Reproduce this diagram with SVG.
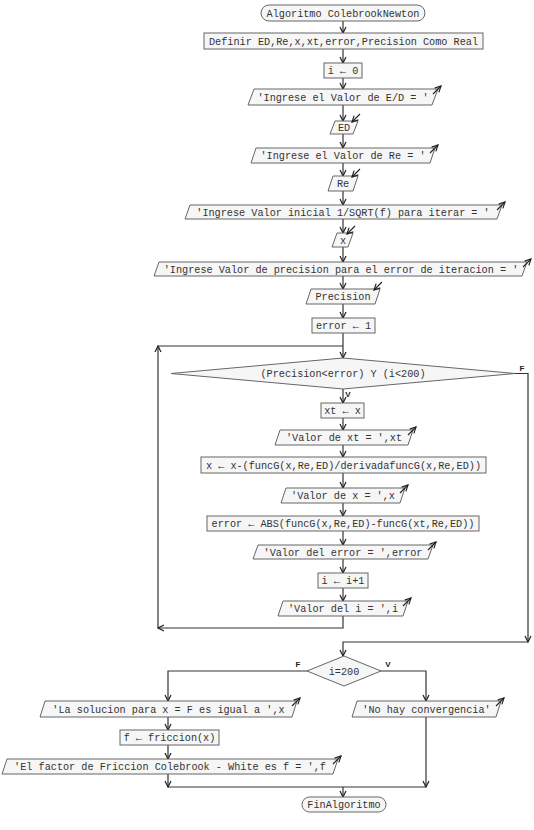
<svg xmlns="http://www.w3.org/2000/svg" width="534" height="830" viewBox="0 0 534 830">
<defs>
<marker id="ah" viewBox="0 0 8 8" refX="7" refY="4" markerWidth="8" markerHeight="8" markerUnits="userSpaceOnUse" orient="auto">
<path d="M1,1 L7,4 L1,7" fill="none" stroke="#222" stroke-width="1.2"/>
</marker>
</defs>
<style>
.s{fill:#f6f6f6;stroke:#666;stroke-width:1}
.t{font-family:"Liberation Mono",monospace;font-size:10.2px;fill:#333;text-anchor:middle}
.l{font-family:"Liberation Sans",sans-serif;font-size:8px;font-weight:bold;fill:#222;text-anchor:middle}
.c{fill:none;stroke:#333;stroke-width:1.2}
.io{fill:none;stroke:#222;stroke-width:1.1}
</style>
<rect width="534" height="830" fill="#ffffff"/>
<g id="connectors">
<path class="c" marker-end="url(#ah)" d="M343,21 V33"/>
<path class="c" marker-end="url(#ah)" d="M343,49 V63"/>
<path class="c" marker-end="url(#ah)" d="M343,78 V89"/>
<path class="c" marker-end="url(#ah)" d="M343,105 V121"/>
<path class="c" marker-end="url(#ah)" d="M343,134 V148"/>
<path class="c" marker-end="url(#ah)" d="M343,163 V176"/>
<path class="c" marker-end="url(#ah)" d="M343,191 V205"/>
<path class="c" marker-end="url(#ah)" d="M343,219 V233"/>
<path class="c" marker-end="url(#ah)" d="M343,247 V262"/>
<path class="c" marker-end="url(#ah)" d="M343,276 V289"/>
<path class="c" marker-end="url(#ah)" d="M343,304 V318"/>
<path class="c" marker-end="url(#ah)" d="M343,333 V358"/>
<path class="c" marker-end="url(#ah)" d="M343,389 V403"/>
<path class="c" marker-end="url(#ah)" d="M343,418 V430"/>
<path class="c" marker-end="url(#ah)" d="M343,445 V457"/>
<path class="c" marker-end="url(#ah)" d="M343,473 V488"/>
<path class="c" marker-end="url(#ah)" d="M343,503 V516"/>
<path class="c" marker-end="url(#ah)" d="M343,531 V545"/>
<path class="c" marker-end="url(#ah)" d="M343,559 V573"/>
<path class="c" marker-end="url(#ah)" d="M343,588 V601"/>
<path class="c" marker-end="url(#ah)" d="M343,616 V628 H158"/>
<path class="c" marker-end="url(#ah)" d="M158,628 V346"/>
<path class="c" d="M158,346 H343"/>
<path class="c" marker-end="url(#ah)" d="M515,373.5 H528 V642"/>
<path class="c" marker-end="url(#ah)" d="M528,642 H343 V656"/>
<path class="c" marker-end="url(#ah)" d="M307,671 H168 V701"/>
<path class="c" marker-end="url(#ah)" d="M381,671 H426 V701"/>
<path class="c" marker-end="url(#ah)" d="M168,717 V730"/>
<path class="c" marker-end="url(#ah)" d="M168,745 V759"/>
<path class="c" marker-end="url(#ah)" d="M168,774 V787"/>
<path class="c" marker-end="url(#ah)" d="M426,717 V787"/>
<path class="c" d="M168,787 H426"/>
<path class="c" marker-end="url(#ah)" d="M343,787 V797"/>
<text class="l" x="348" y="397">V</text>
<text class="l" x="522" y="371">F</text>
<text class="l" x="298" y="667">F</text>
<text class="l" x="388" y="667">V</text>
</g>
<g id="n1"><rect class="s" x="261" y="5" width="164" height="16" rx="8"/><text class="t" x="343" y="16.5">Algoritmo ColebrookNewton</text></g>
<g id="n2"><rect class="s" x="204" y="33" width="279" height="16"/><text class="t" x="343.5" y="44.5">Definir ED,Re,x,xt,error,Precision Como Real</text></g>
<g id="n3"><rect class="s" x="324" y="63" width="38" height="15"/><text class="t" x="343" y="74">i ← 0</text></g>
<g id="n4"><polygon class="s" points="248,105 254,89 438,89 432,105"/><text class="t" x="343" y="100.5">'Ingrese el Valor de E/D = '</text><path class="io" marker-end="url(#ah)" d="M433,94 L441,86"/></g>
<g id="n5"><polygon class="s" points="330,134 335,121 358,121 353,134"/><text class="t" x="344" y="131">ED</text><path class="io" marker-end="url(#ah)" d="M360,114 L352,122"/></g>
<g id="n6"><polygon class="s" points="251,163 256,148 435,148 430,163"/><text class="t" x="343" y="159">'Ingrese el Valor de Re = '</text><path class="io" marker-end="url(#ah)" d="M430,153 L438,145"/></g>
<g id="n7"><polygon class="s" points="328,191 333,176 358,176 353,191"/><text class="t" x="343" y="187">Re</text><path class="io" marker-end="url(#ah)" d="M360,169 L352,177"/></g>
<g id="n8"><polygon class="s" points="185,219 190,205 502,205 497,219"/><text class="t" x="343" y="215.5">'Ingrese Valor inicial 1/SQRT(f) para iterar = '</text><path class="io" marker-end="url(#ah)" d="M497,210 L505,202"/></g>
<g id="n9"><polygon class="s" points="332,247 337,233 353,233 348,247"/><text class="t" x="343" y="243.5">x</text><path class="io" marker-end="url(#ah)" d="M355,226 L347,234"/></g>
<g id="n10"><polygon class="s" points="154,276 159,262 527,262 522,276"/><text class="t" x="341" y="272.5">'Ingrese Valor de precision para el error de iteracion = '</text><path class="io" marker-end="url(#ah)" d="M523,267 L531,259"/></g>
<g id="n11"><polygon class="s" points="306,304 311,289 380,289 375,304"/><text class="t" x="343" y="300">Precision</text><path class="io" marker-end="url(#ah)" d="M382,282 L374,290"/></g>
<g id="n12"><rect class="s" x="312" y="318" width="63" height="15"/><text class="t" x="343.5" y="329">error ← 1</text></g>
<g id="n13"><polygon class="s" points="171,373.5 343,358 515,373.5 343,389"/><text class="t" x="343" y="377">(Precision&lt;error) Y (i&lt;200)</text></g>
<g id="n14"><rect class="s" x="321" y="403" width="43" height="15"/><text class="t" x="342.5" y="414">xt ← x</text></g>
<g id="n15"><polygon class="s" points="275,445 280,430 413,430 408,445"/><text class="t" x="344" y="441">'Valor de xt = ',xt</text><path class="io" marker-end="url(#ah)" d="M408,435 L416,427"/></g>
<g id="n16"><rect class="s" x="201" y="457" width="285" height="16"/><text class="t" x="343.5" y="468.5">x ← x-(funcG(x,Re,ED)/derivadafuncG(x,Re,ED))</text></g>
<g id="n17"><polygon class="s" points="281,503 286,488 405,488 400,503"/><text class="t" x="343" y="499">'Valor de x = ',x</text><path class="io" marker-end="url(#ah)" d="M400,493 L408,485"/></g>
<g id="n18"><rect class="s" x="207" y="516" width="272" height="15"/><text class="t" x="343" y="527">error ← ABS(funcG(x,Re,ED)-funcG(xt,Re,ED))</text></g>
<g id="n19"><polygon class="s" points="253,559 258,545 433,545 428,559"/><text class="t" x="343" y="555.5">'Valor del error = ',error</text><path class="io" marker-end="url(#ah)" d="M428,550 L436,542"/></g>
<g id="n20"><rect class="s" x="318" y="573" width="50" height="15"/><text class="t" x="343" y="584">i ← i+1</text></g>
<g id="n21"><polygon class="s" points="278,616 283,601 408,601 403,616"/><text class="t" x="343" y="612">'Valor del i = ',i</text><path class="io" marker-end="url(#ah)" d="M403,606 L411,598"/></g>
<g id="n22"><polygon class="s" points="307,671 344,656 381,671 344,686"/><text class="t" x="344" y="674.5">i=200</text></g>
<g id="n23"><polygon class="s" points="40,717 45,701 297,701 292,717"/><text class="t" x="168.5" y="712.5">'La solucion para x = F es igual a ',x</text><path class="io" marker-end="url(#ah)" d="M292,706 L300,698"/></g>
<g id="n24"><polygon class="s" points="352,717 357,701 501,701 496,717"/><text class="t" x="426.5" y="712.5">'No hay convergencia'</text><path class="io" marker-end="url(#ah)" d="M496,706 L504,698"/></g>
<g id="n25"><rect class="s" x="120" y="730" width="99" height="15"/><text class="t" x="169.5" y="741">f ← friccion(x)</text></g>
<g id="n26"><polygon class="s" points="2,774 7,759 338,759 333,774"/><text class="t" x="170" y="770">'El factor de Friccion Colebrook - White es f = ',f</text><path class="io" marker-end="url(#ah)" d="M333,764 L341,756"/></g>
<g id="n27"><rect class="s" x="302" y="797" width="84" height="15" rx="7.5"/><text class="t" x="344" y="808">FinAlgoritmo</text></g>
</svg>
